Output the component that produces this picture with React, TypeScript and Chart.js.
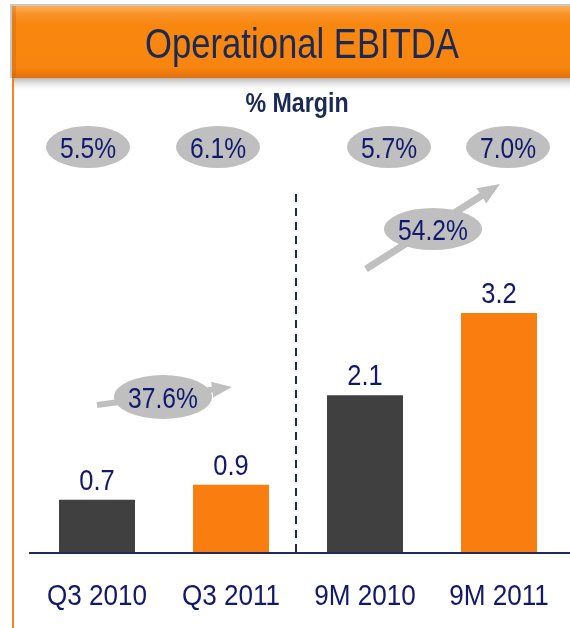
import React, { useEffect, useRef } from "react";
import { Chart, registerables } from "chart.js";

Chart.register(...registerables);

const categories = ["Q3 2010", "Q3 2011", "9M 2010", "9M 2011"];
const ebitdaValues = [0.7, 0.9, 2.1, 3.2];
const valueLabels = ["0.7", "0.9", "2.1", "3.2"];
const marginLabels = ["5.5%", "6.1%", "5.7%", "7.0%"];
const growthLabels = ["37.6%", "54.2%"];
const barColors = ["#404040", "#FA7D10", "#404040", "#FA7D10"];

const titleText = "Operational EBITDA";
const subtitleText = "% Margin";

const FONT = "'Liberation Sans', Arial, sans-serif";
const NAVY = "#12196C";
const TITLE_NAVY = "#1A2A55";
const GRAY = "#BFBFBF";

function drawText(
  ctx: CanvasRenderingContext2D,
  text: string,
  x: number,
  y: number,
  size: number,
  sx: number,
  color: string,
  bold = false
) {
  ctx.save();
  ctx.translate(x, y);
  ctx.scale(sx, 1);
  ctx.fillStyle = color;
  ctx.font = `${bold ? "bold " : ""}${size}px ${FONT}`;
  ctx.textAlign = "center";
  ctx.textBaseline = "alphabetic";
  ctx.fillText(text, 0, 0);
  ctx.restore();
}

function drawArrow(ctx: CanvasRenderingContext2D, x1: number, y1: number, x2: number, y2: number, w: number, head: number, headW: number) {
  const ang = Math.atan2(y2 - y1, x2 - x1);
  const bx = x2 - Math.cos(ang) * head;
  const by = y2 - Math.sin(ang) * head;
  const nx = -Math.sin(ang);
  const ny = Math.cos(ang);
  ctx.save();
  ctx.fillStyle = GRAY;
  ctx.beginPath();
  ctx.moveTo(x1 + nx * w / 2, y1 + ny * w / 2);
  ctx.lineTo(bx + nx * w / 2, by + ny * w / 2);
  ctx.lineTo(bx + nx * headW / 2, by + ny * headW / 2);
  ctx.lineTo(x2, y2);
  ctx.lineTo(bx - nx * headW / 2, by - ny * headW / 2);
  ctx.lineTo(bx - nx * w / 2, by - ny * w / 2);
  ctx.lineTo(x1 - nx * w / 2, y1 - ny * w / 2);
  ctx.closePath();
  ctx.fill();
  ctx.restore();
}

function drawBubble(ctx: CanvasRenderingContext2D, cx: number, cy: number, rx: number, ry: number, text: string) {
  ctx.save();
  ctx.fillStyle = GRAY;
  ctx.beginPath();
  ctx.ellipse(cx, cy, rx, ry, 0, 0, Math.PI * 2);
  ctx.fill();
  ctx.restore();
  drawText(ctx, text, cx, cy + 11, 30, 0.82, NAVY);
}

const decorPlugin = {
  id: "decor",
  beforeDraw(chart: any) {
    const ctx = chart.ctx as CanvasRenderingContext2D;
    ctx.save();
    // title bar shadow
    const sh = ctx.createLinearGradient(0, 76, 0, 90);
    sh.addColorStop(0, "rgba(90,90,90,0.55)");
    sh.addColorStop(1, "rgba(200,200,200,0)");
    ctx.fillStyle = sh;
    ctx.fillRect(14, 76, 556, 14);
    // faint outline
    ctx.fillStyle = "#C8C8C8";
    ctx.fillRect(11, 4, 559, 2);
    ctx.fillRect(10, 4, 2, 74);
    // main bar
    const g = ctx.createLinearGradient(0, 6, 0, 78);
    g.addColorStop(0, "#FBB055");
    g.addColorStop(0.12, "#F99128");
    g.addColorStop(0.25, "#F8870F");
    g.addColorStop(0.85, "#F8850F");
    g.addColorStop(1, "#E2700C");
    ctx.fillStyle = g;
    ctx.fillRect(12, 6, 558, 72);
    ctx.fillStyle = "rgba(200,100,10,0.35)";
    ctx.fillRect(12, 6, 4, 72);
    // left orange rule
    ctx.fillStyle = "#F7861A";
    ctx.fillRect(12, 78, 2, 550);
    ctx.restore();
    // title and subtitle
    drawText(ctx, titleText, 302, 58, 42, 0.825, TITLE_NAVY);
    drawText(ctx, subtitleText, 297, 112, 27, 0.86, TITLE_NAVY, true);
  },
  afterDatasetsDraw(chart: any) {
    const ctx = chart.ctx as CanvasRenderingContext2D;
    const xs = chart.scales.x;
    const area = chart.chartArea;
    const meta = chart.getDatasetMeta(0);
    // axis line
    ctx.save();
    ctx.strokeStyle = "#1F2D5A";
    ctx.lineWidth = 2;
    ctx.beginPath();
    ctx.moveTo(area.left - 1, area.bottom + 1);
    ctx.lineTo(570, area.bottom + 1);
    ctx.stroke();
    ctx.restore();
    // category labels
    categories.forEach((c, i) => {
      drawText(ctx, c, xs.getPixelForValue(i), 605, 29.5, 0.885, NAVY);
    });
    // value labels
    meta.data.forEach((bar: any, i: number) => {
      drawText(ctx, valueLabels[i], bar.x, bar.y - 10, 30, 0.85, NAVY);
    });
    // dashed separator
    const sepX = (xs.getPixelForValue(1) + xs.getPixelForValue(2)) / 2 - 2;
    ctx.save();
    ctx.strokeStyle = "#1A2A55";
    ctx.lineWidth = 2;
    ctx.setLineDash([8, 6]);
    ctx.beginPath();
    ctx.moveTo(sepX, 194);
    ctx.lineTo(sepX, area.bottom);
    ctx.stroke();
    ctx.restore();
    // margin bubbles
    const offs = [-9, -13, 24, 9];
    marginLabels.forEach((t, i) => {
      drawBubble(ctx, xs.getPixelForValue(i) + offs[i], 147, 42, 21, t);
    });
    // growth arrows
    const x0 = xs.getPixelForValue(0);
    const x1 = xs.getPixelForValue(1);
    drawArrow(ctx, x0, 405, x1 + 1, 387, 6, 20, 16);
    drawBubble(ctx, (x0 + x1) / 2 - 1, 397, 49, 22, growthLabels[0]);
    const x2 = xs.getPixelForValue(2);
    const x3 = xs.getPixelForValue(3);
    drawArrow(ctx, x2 + 1, 269, x3 + 1, 184, 7, 22, 18);
    drawBubble(ctx, (x2 + x3) / 2 + 1, 229, 49, 21, growthLabels[1]);
  },
};

export default function App() {
  const ref = useRef<HTMLCanvasElement | null>(null);
  useEffect(() => {
    if (!ref.current) return;
    const chart = new Chart(ref.current, {
      type: "bar",
      data: {
        labels: categories,
        datasets: [
          {
            data: ebitdaValues,
            backgroundColor: barColors,
            borderWidth: 0,
            barPercentage: 0.567,
            categoryPercentage: 1,
          },
        ],
      },
      options: {
        animation: false,
        responsive: false,
        maintainAspectRatio: false,
        layout: { padding: { left: 30, right: 4, top: 104, bottom: 0 } },
        plugins: { legend: { display: false }, tooltip: { enabled: false }, title: { display: false } },
        scales: {
          x: {
            grid: { display: false, drawTicks: false },
            border: { display: false },
            ticks: { display: false },
            afterFit: (scale: any) => {
              scale.height = 76;
            },
          },
          y: {
            display: false,
            min: 0,
            max: 6,
          },
        },
      },
      plugins: [decorPlugin],
    });
    return () => chart.destroy();
  }, []);
  return (
    <div style={{ position: "fixed", left: 0, top: 0, width: 570, height: 628, background: "#fff" }}>
      <canvas ref={ref} width={570} height={628} style={{ width: 570, height: 628 }} />
    </div>
  );
}
